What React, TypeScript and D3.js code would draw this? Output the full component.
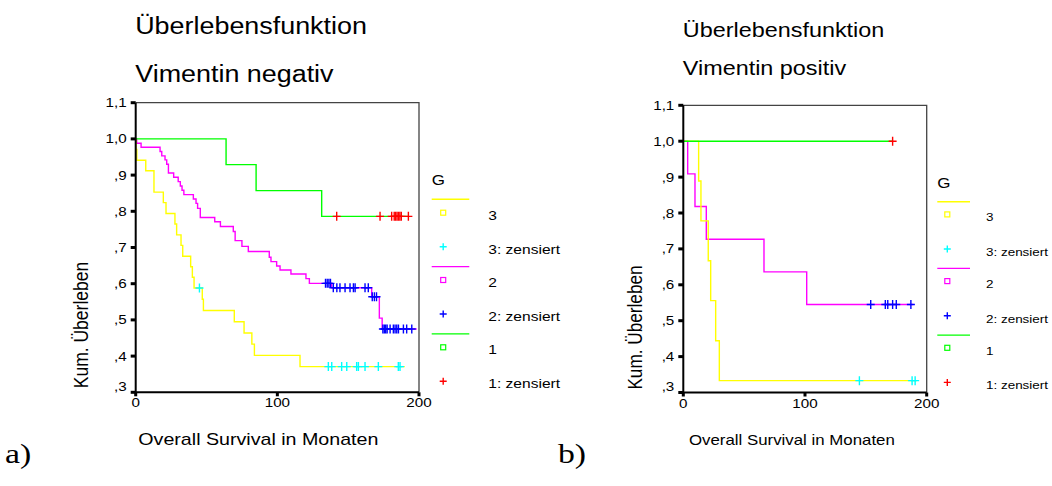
import * as d3 from "d3";

// Kaplan-Meier steps: [months, cumulative survival]
const negGroup3: [number, number][] = [
  [0, 1], [0.2, 0.971], [0.8, 0.941], [7.1, 0.912], [12.9, 0.853], [19.5, 0.824],
  [21.4, 0.794], [27.7, 0.765], [28.9, 0.735], [32, 0.706], [33.2, 0.676],
  [38.8, 0.647], [40, 0.618], [41.2, 0.588], [47, 0.557], [47.8, 0.526],
  [69.6, 0.495], [76.5, 0.464], [82, 0.433], [83.8, 0.402], [116, 0.371],
];
const negGroup3End = 190;
const negGroup3Cens = [45, 136, 138.4, 145.4, 149, 156, 157.2, 161.9, 171.3, 185.4, 186.6];

const negGroup2: [number, number][] = [
  [0, 1], [0.7, 0.988], [3.8, 0.977], [17.2, 0.965], [18.4, 0.953], [20.7, 0.942],
  [21.9, 0.93], [23.1, 0.906], [26.8, 0.894], [30, 0.882], [31.5, 0.87],
  [32.7, 0.858], [34, 0.846], [40.7, 0.834], [42.6, 0.822], [43.7, 0.808],
  [45.6, 0.783], [55.8, 0.771], [59.8, 0.758], [68.9, 0.744], [70.2, 0.719],
  [75, 0.703], [79.5, 0.689], [94.3, 0.673], [95.5, 0.661], [99.5, 0.649],
  [101.9, 0.638], [109.6, 0.627], [120.2, 0.614], [122.6, 0.601], [138.3, 0.589],
  [166.6, 0.564], [172, 0.505], [174, 0.475],
];
const negGroup2End = 198.4;
const negGroup2Cens = [
  134, 135.2, 136.4, 137.5, 139.5, 142, 144.2, 147.8, 151.3, 153.7, 154.9, 161.9,
  164.2, 167, 168.5, 170, 174.5, 175.5, 176.5, 177.5, 179.6, 181.9, 183.1, 184.3,
  185.5, 189, 191.3, 194.9,
];

const negGroup1: [number, number][] = [[0, 1], [63.8, 0.929], [85, 0.857], [131.3, 0.786]];
const negGroup1End = 193;
const negGroup1Cens = [141.9, 172.5, 180.7, 182.5, 183.5, 184.5, 185.5, 186.5, 187.5, 192.5];

const posGroup3: [number, number][] = [
  [0, 1], [12.6, 0.889], [14.5, 0.778], [20.5, 0.667], [22.5, 0.556], [26.6, 0.444], [29.6, 0.333],
];
const posGroup3End = 192;
const posGroup3Cens = [144.7, 188, 190.5];

const posGroup2: [number, number][] = [
  [0, 1], [3.6, 0.909], [9.6, 0.818], [18.9, 0.727], [66.3, 0.636], [101.4, 0.545],
];
const posGroup2End = 189;
const posGroup2Cens = [154, 166, 168, 172, 175, 187];

const posGroup1: [number, number][] = [[0, 1]];
const posGroup1End = 172;
const posGroup1Cens = [172];

const xTicks = [0, 100, 200];
const yTicks = [1.1, 1.0, 0.9, 0.8, 0.7, 0.6, 0.5, 0.4, 0.3];
const yTickLabels = ["1,1", "1,0", ",9", ",8", ",7", ",6", ",5", ",4", ",3"];
const groupNames = ["3", "2", "1"];
const lineColors = ["#ffff00", "#ff00ff", "#00ff00"];
const censColors = ["#00ffff", "#0000ff", "#ff0000"];

const SANS = "'Liberation Sans', Arial, sans-serif";
const SERIF = "'Liberation Serif', 'Times New Roman', serif";
const SX = 1.17; // the original is stretched horizontally

function Label({ x, y, size, anchor = "start", rotate = false, family = SANS, sx = SX, children }: any) {
  return (
    <text
      transform={`translate(${x},${y}) scale(${sx},1)${rotate ? " rotate(-90)" : ""}`}
      fontSize={size}
      fontFamily={family}
      textAnchor={anchor}
      fill="#000"
    >
      {children}
    </text>
  );
}

function Cross({ x, y, color, w = 4, h = 4.5 }: any) {
  return (
    <path
      d={`M${x - w},${y}H${x + w}M${x},${y - h}V${y + h}`}
      stroke={color}
      strokeWidth={1.4}
      fill="none"
    />
  );
}

function Panel({ p }: any) {
  const x = d3.scaleLinear().domain([0, 200]).range([p.left, p.right]);
  const y = d3.scaleLinear().domain([0.3, 1.1]).range([p.bottom, p.top]);
  const line = d3
    .line<[number, number]>()
    .x((d) => x(d[0]))
    .y((d) => y(d[1]))
    .curve(d3.curveStepAfter);
  const bis = d3.bisector((d: [number, number]) => d[0]).right;
  const at = (steps: [number, number][], t: number) => steps[bis(steps, t) - 1][1];

  return (
    <g>
      <Label x={p.left - 0.5} y={p.titleY1} size={p.titleSize}>Überlebensfunktion</Label>
      <Label x={p.left - 0.5} y={p.titleY2} size={p.titleSize}>{p.subtitle}</Label>

      {p.series.map((s: any, i: number) => (
        <path
          key={"l" + i}
          d={line([...s.steps, [s.end, s.steps[s.steps.length - 1][1]]]) || ""}
          fill="none"
          stroke={lineColors[s.g]}
          strokeWidth={1.4}
        />
      ))}
      {p.series.map((s: any, i: number) => (
        <g key={"c" + i}>
          {s.cens.map((t: number, j: number) => (
            <Cross key={j} x={x(t)} y={y(at(s.steps, t))} color={censColors[s.g]} />
          ))}
        </g>
      ))}

      {/* frame */}
      <path d={`M${p.left},${p.top}H${p.right}V${p.bottom}`} stroke="#444" strokeWidth={1.3} fill="none" />
      <path d={`M${p.left},${p.top}V${p.bottom}H${p.right}`} stroke="#000" strokeWidth={2} fill="none" />

      {yTicks.map((v, i) => (
        <g key={"y" + i}>
          <rect x={p.left - 5} y={y(v) - 1.5} width={5} height={3} fill="#000" />
          <Label
            x={p.left - 9}
            y={y(v) + 4.5 - (i === yTicks.length - 1 ? 6 : 0)}
            size={p.tickSize}
            anchor="end"
          >
            {yTickLabels[i]}
          </Label>
        </g>
      ))}
      {xTicks.map((v) => (
        <g key={"x" + v}>
          <rect x={x(v) - 1.5} y={p.bottom} width={3} height={4} fill="#000" />
          <Label x={x(v)} y={p.bottom + 15} size={p.tickSize} anchor="middle">{v}</Label>
        </g>
      ))}

      <Label x={p.yLabelX} y={p.yLabelY} size={p.yLabelSize} anchor="middle" rotate>
        Kum.  Überleben
      </Label>
      <Label x={p.xLabelX} y={p.xLabelY} size={p.xLabelSize}>Overall Survival in Monaten</Label>

      {/* legend */}
      <Label x={p.legX} y={p.legY} size={p.legTitleSize}>G</Label>
      {groupNames.map((g, i) => {
        const ly = p.legLine0 + i * p.legStep;
        return (
          <g key={"lg" + g}>
            <line x1={p.legX} x2={p.legX + p.legLineW} y1={ly} y2={ly} stroke={lineColors[i]} strokeWidth={1.4} />
            <rect
              x={p.legX + p.legMarkDx - 2.5}
              y={ly + p.legSqDy - 2.5}
              width={5}
              height={5}
              fill="none"
              stroke={lineColors[i]}
              strokeWidth={1.2}
            />
            <Label x={p.legTextX} y={ly + p.legSqDy + 7} size={p.legSize}>{g}</Label>
            <Cross x={p.legX + p.legMarkDx} y={ly + p.legPlusDy} color={censColors[i]} w={3.5} h={3.5} />
            <Label x={p.legTextX} y={ly + p.legPlusDy + 7} size={p.legSize}>{g + ": zensiert"}</Label>
          </g>
        );
      })}
    </g>
  );
}

const negPanel = {
  left: 135.7, right: 419, top: 102.7, bottom: 392.3,
  titleY1: 34, titleY2: 82, titleSize: 23, subtitle: "Vimentin negativ",
  tickSize: 13,
  yLabelX: 88.3, yLabelY: 325, yLabelSize: 17.5,
  xLabelX: 138.3, xLabelY: 445, xLabelSize: 16.8,
  legX: 431.7, legY: 185, legTitleSize: 14.5, legLine0: 199.3, legStep: 67.3, legLineW: 37.6,
  legMarkDx: 11.5, legSqDy: 13.4, legPlusDy: 47.4, legTextX: 488.3, legSize: 13.3,
  series: [
    { g: 1, steps: negGroup2, end: negGroup2End, cens: negGroup2Cens },
    { g: 0, steps: negGroup3, end: negGroup3End, cens: negGroup3Cens },
    { g: 2, steps: negGroup1, end: negGroup1End, cens: negGroup1Cens },
  ],
};

const posPanel = {
  left: 683.3, right: 926.7, top: 105.3, bottom: 392.5,
  titleY1: 36.7, titleY2: 75, titleSize: 20, subtitle: "Vimentin positiv",
  tickSize: 13,
  yLabelX: 641.7, yLabelY: 327.5, yLabelSize: 17.2,
  xLabelX: 689, xLabelY: 445, xLabelSize: 14.4,
  legX: 937.3, legY: 188.3, legTitleSize: 14.5, legLine0: 201.7, legStep: 66.7, legLineW: 32.7,
  legMarkDx: 10, legSqDy: 12.7, legPlusDy: 47.3, legTextX: 986, legSize: 11.5,
  series: [
    { g: 1, steps: posGroup2, end: posGroup2End, cens: posGroup2Cens },
    { g: 0, steps: posGroup3, end: posGroup3End, cens: posGroup3Cens },
    { g: 2, steps: posGroup1, end: posGroup1End, cens: posGroup1Cens },
  ],
};

export default function App() {
  return (
    <svg
      width={1052}
      height={486}
      viewBox="0 0 1052 486"
      style={{ position: "absolute", left: 0, top: 0, background: "#fff" }}
    >
      <rect width={1052} height={486} fill="#fff" />
      <Panel p={negPanel} />
      <Panel p={posPanel} />
      <Label x={5} y={463} size={27} family={SERIF} sx={1.25}>a)</Label>
      <Label x={558} y={463} size={27} family={SERIF} sx={1.25}>b)</Label>
    </svg>
  );
}
